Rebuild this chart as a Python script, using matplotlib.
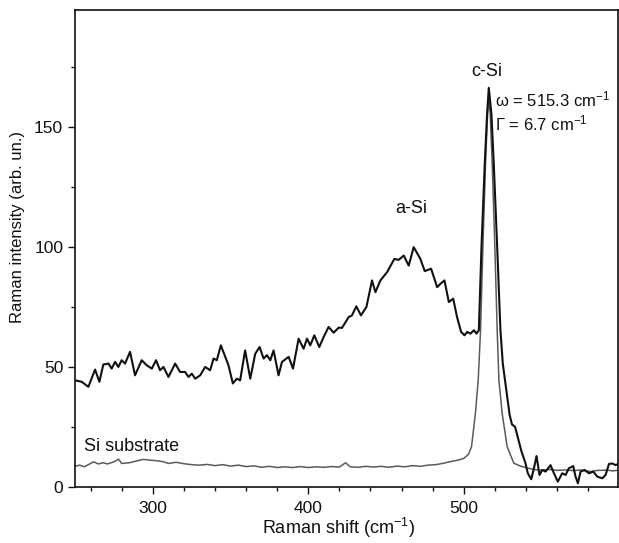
import matplotlib
matplotlib.use("Agg")
import matplotlib.pyplot as plt
from matplotlib.ticker import MultipleLocator

# ---- data ----
sample_x = [250, 254.3, 258.6, 262.9, 265.7, 268.2, 271.5, 273.6, 275.8, 277.9, 280.0, 282.2,
            285.4, 288.6, 292.9, 296.1, 299.4, 302.1, 304.7, 306.9, 310.1, 314.4, 317.6, 320.8,
            323.0, 325.1, 327.3, 330.5, 333.7, 336.9, 339.1, 341.2, 343.8, 346.6, 348.7, 351.5,
            354.1, 356.2, 359.4, 362.7, 365.9, 368.7, 371.3, 373.4, 375.6, 377.7, 380.9, 383.1,
            387.4, 390.2, 393.8, 397.0, 399.2, 401.3, 403.9, 407.1, 409.9, 413.1, 416.3, 419.6,
            421.7, 426.0, 428.1, 430.9, 433.9, 437.4, 441.0, 443.2, 446.4, 450.7, 455.4, 458.2,
            461.4, 464.6, 467.8, 472.1, 474.9, 479.0, 482.9, 485.0, 487.6, 490.4, 493.2, 495.7,
            498.3, 500.5, 502.2, 504.3, 506.5, 508.2, 509.7, 510.5, 511.4, 513.5, 515.0, 516.1,
            517.8, 519.3, 521.5, 523.6, 525.1, 527.9, 529.5, 531.0, 533.0, 535.0, 537.0, 539.7,
            541.2, 543.4,
            545.1, 546.8, 548.7, 550.5, 552.6, 555.8, 558.0, 560.5, 563.3, 565.5, 567.6, 570.4,
            571.9, 573.4, 575.1, 577.7, 580.5, 583.3, 585.9, 589.1, 591.2, 593.4, 595.5, 597.7,
            599.4]
sample_y = [44.4, 43.8, 41.7, 48.9, 43.8, 51.0, 51.4, 49.3, 52.1, 50.0, 52.8, 51.4,
            56.3, 46.5, 52.8, 50.7, 49.3, 52.8, 48.6, 50.0, 45.8, 51.4, 47.9, 47.9,
            45.8, 47.2, 45.1, 46.5, 50.0, 48.6, 53.5, 52.8, 59.0, 54.2, 50.7, 43.1,
            45.1, 44.4, 56.9, 45.1, 55.5, 58.3, 53.5, 54.9, 52.8, 56.9, 46.5, 52.1,
            54.2, 49.3, 61.8, 57.6, 61.8, 59.0, 63.2, 58.3, 62.5, 66.7, 64.3, 66.4,
            66.3, 70.8, 71.5, 75.3, 71.5, 75.0, 86.1, 81.2, 86.1, 89.6, 95.1, 94.7,
            96.5, 92.3, 100.0, 95.1, 90.0, 91.0, 83.3, 84.7, 86.1, 77.1, 78.5, 70.8,
            64.6, 63.2, 64.6, 63.9, 65.3, 63.9, 65.3, 82.0, 100.0, 134.8, 155.6, 166.5,
            155.6, 134.8, 100.0, 65.3, 51.4, 37.6, 30.0, 26.0, 25.0, 20.0, 15.0, 9.8,
            5.6, 3.1,
            7.6, 12.8, 4.9, 7.0, 6.3, 9.0, 5.6, 2.1, 5.6, 4.9, 7.7, 8.6,
            4.2, 1.4, 6.3, 7.0, 5.6, 6.3, 4.2, 3.5, 4.9, 9.5, 9.7, 9.0,
            9.5]

substrate_x = [250, 253, 256, 260, 262, 265, 268, 271, 275, 278, 280, 285, 290, 294, 298, 303,
               307, 310, 315, 320, 325, 330, 335, 340, 345, 350, 355, 360, 365, 370, 375, 380,
               385, 390, 395, 400, 405, 410, 415, 420, 424, 427, 432, 437, 442, 447, 452, 457,
               462, 467, 472, 477, 482, 487, 491, 495.7, 500, 503, 505, 507.5, 509.3, 510.8,
               512.3, 514.0, 515.3, 516.1, 517.0, 518.3, 520.0, 521.5, 522.6, 524.7, 527.9, 532.2,
               536.5, 540.8, 545, 549.4, 555, 560, 565, 570.8, 575, 581.6, 586, 592.3,
               596, 599.4]
substrate_y = [8.5, 9.0, 8.3, 9.7, 10.4, 9.5, 10.0, 9.5, 10.4, 11.5, 9.7, 10.0, 10.8, 11.4, 11.1, 10.8,
               10.4, 9.7, 10.2, 9.6, 9.2, 9.0, 9.3, 8.8, 9.2, 8.6, 9.0, 8.4, 8.7, 8.1, 8.5, 8.0,
               8.3, 8.0, 8.4, 8.0, 8.3, 8.1, 8.4, 8.2, 10.0, 8.3, 8.1, 8.5, 8.2, 8.5, 8.1, 8.6,
               8.3, 8.8, 8.5, 9.0, 9.2, 9.8, 10.4, 11.0, 11.8, 13.5, 16.7, 30.6, 44.5, 65.3,
               100.0, 134.8, 155.6, 162.0, 155.6, 134.8, 100.0, 65.3, 44.5, 30.6, 16.7, 9.8,
               8.6, 7.8, 7.2, 6.9, 7.2, 6.8, 7.0, 6.7, 7.0, 6.3, 6.8, 6.9,
               6.6, 6.9]

x_major_ticks = [300, 400, 500]
y_major_ticks = [0, 50, 100, 150]
x_label = "Raman shift (cm$^{-1}$)"
y_label = "Raman intensity (arb. un.)"

# ---- style ----
plt.rcParams["font.family"] = ["Liberation Sans", "DejaVu Sans"]
plt.rcParams["mathtext.fontset"] = "custom"
plt.rcParams["mathtext.rm"] = "Liberation Sans"
plt.rcParams["mathtext.it"] = "Liberation Sans:italic"
plt.rcParams["mathtext.bf"] = "Liberation Sans:bold"

fig = plt.figure(figsize=(6.19, 5.43), dpi=100)
ax = fig.add_axes([75 / 619, (543 - 486.7) / 543, (617.7 - 75) / 619, (486.7 - 10) / 543])

ax.plot(substrate_x, substrate_y, color="#5a5a5a", lw=1.1, zorder=2)
ax.plot(sample_x, sample_y, color="#111111", lw=1.5, zorder=3)

ax.set_xlim(250, 599)
ax.set_ylim(0, 199)
ax.set_xticks(x_major_ticks)
ax.set_yticks(y_major_ticks)
ax.xaxis.set_minor_locator(MultipleLocator(20))
ax.yaxis.set_minor_locator(MultipleLocator(25))
ax.tick_params(which="major", direction="out", length=5, width=1.0, labelsize=12.5,
               top=False, right=False, colors="#111111")
ax.tick_params(axis="x", which="major", pad=5.5)
ax.tick_params(which="minor", direction="out", length=3, width=1.0, top=False, right=False,
               colors="#111111")
for s in ax.spines.values():
    s.set_linewidth(1.2)
    s.set_color("#111111")

ax.set_xlabel(x_label, fontsize=13, color="#111111")
ax.set_ylabel(y_label, fontsize=12, color="#111111")
ax.xaxis.set_label_coords(0.485, -0.062)
ax.yaxis.set_label_coords(-0.093, 0.545)

ax.text(515, 173.5, "c-Si", fontsize=13, ha="center", va="center", color="#111111")
ax.text(520, 161.8, "ω = 515.3 cm$^{-1}$", fontsize=12, ha="left", va="center", color="#111111")
ax.text(520, 151.5, "Γ = 6.7 cm$^{-1}$", fontsize=12, ha="left", va="center", color="#111111")
ax.text(466, 116, "a-Si", fontsize=13, ha="center", va="center", color="#111111")
ax.text(256, 16.7, "Si substrate", fontsize=13, ha="left", va="center", color="#111111")

fig.savefig("out.png", dpi=100)
